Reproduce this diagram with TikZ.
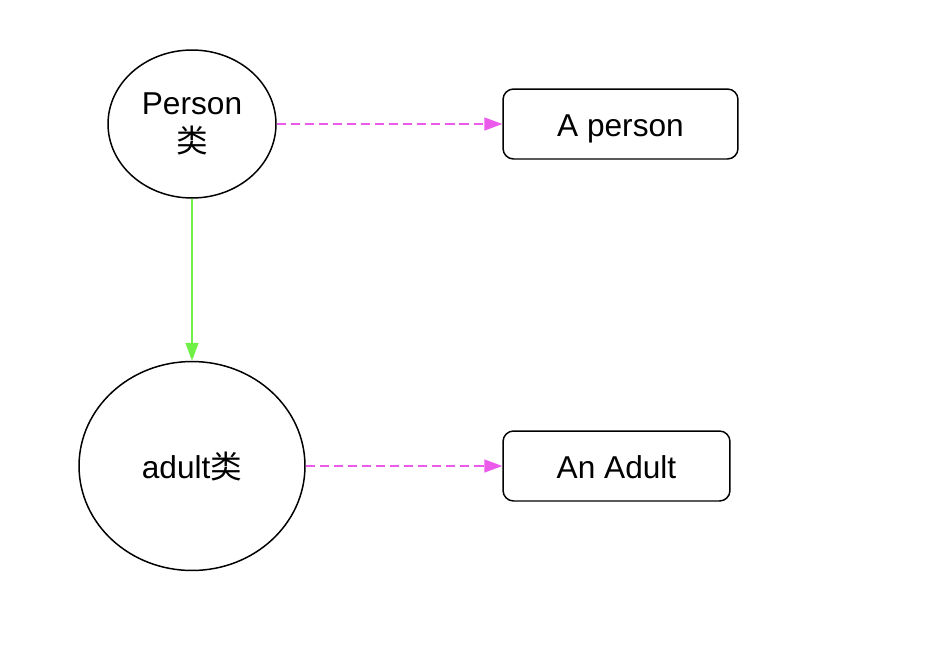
\documentclass[tikz,border=0pt]{standalone}
\usepackage{fontspec}
\setmainfont{Liberation Sans}
\newfontfamily\cjk{Noto Sans CJK SC}
\usetikzlibrary{shapes.geometric,arrows.meta}
\begin{document}
\begin{tikzpicture}[x=0.02cm,y=-0.02cm,
    klass/.style={ellipse,draw,line width=0.85pt,inner sep=0pt,align=center,font=\fontsize{18}{22}\selectfont},
    thing/.style={rectangle,draw,rounded corners=6pt,line width=0.85pt,inner sep=0pt,text height=14pt,text depth=0pt,font=\fontsize{18}{24}\selectfont},
    isa/.style={line width=0.85pt,color=isagreen,-{Triangle[length=0.36cm,width=0.26cm]}},
    inst/.style={line width=0.85pt,color=instpink,dash pattern=on 5.2pt off 2.8pt,-{Triangle[length=0.36cm,width=0.26cm]}}]
   \definecolor{isagreen}{RGB}{110,240,70}
   \definecolor{instpink}{RGB}{235,90,235}
   \useasboundingbox (0,0) rectangle (936,646);
   % classes
   \node[klass,minimum width=3.36cm,minimum height=2.96cm] (person) at (192,124) {Person\\{\cjk 类}};
   \node[klass,minimum width=4.52cm,minimum height=4.18cm] (adult) at (192,466) {adult{\cjk 类}};
   % objects
   \node[thing,minimum width=4.7cm,minimum height=1.4cm] (aperson) at (620.5,124) {A person};
   \node[thing,minimum width=4.54cm,minimum height=1.4cm] (anadult) at (616.5,466) {An Adult};
   % links
   \draw[isa] (person) -- (adult);
   \draw[inst] (person) -- (aperson);
   \draw[inst] (adult) -- (anadult);
\end{tikzpicture}
\end{document}
